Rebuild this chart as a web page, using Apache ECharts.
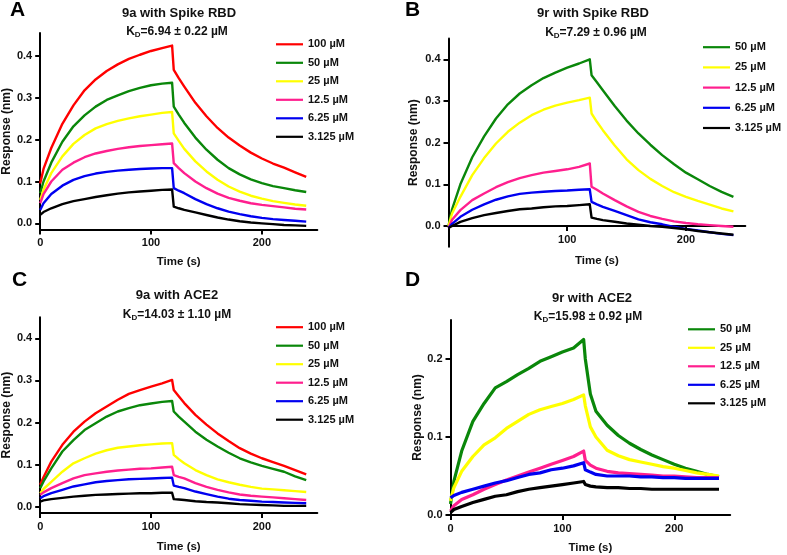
<!DOCTYPE html>
<html><head><meta charset="utf-8">
<script src="https://cdn.jsdelivr.net/npm/echarts@6/dist/echarts.min.js"></script>
<style>html,body{margin:0;padding:0;background:#fff}#c{width:787px;height:555px}</style>
</head><body><div id="c"></div>
<script>
// Time points (s) shared by every trace
const T = [0,3,10,20,30,40,50,60,70,80,90,100,110,119,120.5,125,130,140,150,160,170,180,190,200,210,220,230,240];

// Panel A: 9a with Spike RBD
const A_100 = [.095,.13,.18,.238,.282,.318,.344,.364,.38,.393,.403,.412,.419,.425, .367,.347,.327,.288,.256,.228,.205,.186,.169,.155,.143,.133,.122,.111];
const A_50  = [.072,.1,.145,.195,.232,.258,.279,.295,.306,.316,.324,.33,.334,.336, .279,.26,.24,.205,.176,.152,.132,.117,.105,.096,.089,.084,.079,.075];
const A_25  = [.056,.08,.12,.16,.19,.211,.227,.237,.245,.251,.256,.26,.264,.266, .215,.197,.178,.148,.124,.104,.088,.076,.066,.059,.053,.049,.045,.042];
const A_12  = [.048,.07,.1,.128,.145,.158,.167,.173,.178,.182,.185,.187,.189,.191, .144,.132,.12,.1,.084,.071,.061,.054,.048,.044,.041,.038,.035,.033];
const A_6   = [.032,.048,.07,.09,.104,.113,.119,.123,.126,.128,.13,.131,.132,.132, .084,.078,.072,.058,.046,.036,.028,.022,.017,.013,.01,.008,.006,.004];
const A_3   = [.02,.027,.036,.046,.053,.058,.063,.067,.071,.074,.076,.078,.08,.081, .04,.036,.032,.026,.02,.014,.009,.005,.002,0,-.002,-.004,-.005,-.006];

// Panel B: 9r with Spike RBD
const B_50 = [0,.04,.1,.165,.215,.258,.292,.318,.338,.355,.368,.38,.39,.4, .362,.345,.326,.288,.253,.222,.195,.17,.148,.128,.112,.096,.082,.07];
const B_25 = [0,.03,.07,.122,.163,.198,.226,.248,.266,.279,.289,.296,.302,.308, .27,.25,.23,.193,.16,.134,.113,.096,.081,.07,.06,.051,.042,.035];
const B_12 = [-.005,.015,.038,.062,.078,.093,.105,.115,.122,.128,.132,.136,.142,.15, .094,.087,.078,.062,.047,.034,.024,.017,.011,.007,.004,.002,0,-.002];
const B_6  = [-.005,.005,.022,.039,.052,.063,.071,.077,.08,.082,.084,.085,.087,.088, .058,.052,.046,.036,.026,.016,.009,.004,-.002,-.007,-.011,-.015,-.019,-.022];
const B_3  = [-.005,0,.01,.019,.026,.031,.036,.04,.042,.045,.047,.048,.05,.052, .02,.017,.014,.01,.006,.003,0,-.002,-.005,-.008,-.012,-.015,-.018,-.021];

// Panel C: 9a with ACE2
const C_100 = [.052,.07,.107,.147,.178,.202,.222,.238,.254,.268,.277,.285,.293,.301, .277,.262,.246,.218,.195,.174,.156,.139,.126,.115,.106,.097,.087,.077];
const C_50  = [.044,.06,.091,.131,.158,.182,.198,.214,.226,.234,.241,.245,.249,.251, .226,.214,.202,.178,.159,.143,.128,.115,.105,.097,.09,.083,.072,.063];
const C_25  = [.032,.042,.059,.083,.103,.115,.126,.134,.14,.143,.146,.148,.15,.151, .123,.113,.103,.087,.075,.065,.058,.052,.047,.043,.041,.039,.037,.035];
const C_12  = [.028,.034,.044,.056,.067,.075,.079,.083,.086,.088,.09,.091,.093,.095, .075,.071,.067,.056,.047,.04,.034,.029,.026,.024,.022,.02,.018,.016];
const C_6   = [.02,.025,.032,.04,.048,.053,.058,.061,.063,.065,.066,.067,.068,.069, .05,.047,.044,.036,.03,.024,.019,.016,.014,.012,.011,.01,.009,.008];
const C_3   = [.012,.015,.018,.021,.024,.026,.028,.029,.03,.031,.032,.032,.033,.033, .018,.017,.016,.013,.011,.01,.008,.006,.005,.004,.003,.002,.002,.002];

// Panel D: 9r with ACE2
const D_50 = [.014,.043,.082,.12,.143,.163,.171,.18,.188,.197,.203,.209,.214,.225, .2,.155,.133,.115,.102,.092,.084,.077,.071,.065,.06,.056,.052,.049];
const D_25 = [.018,.035,.056,.075,.09,.099,.111,.12,.129,.135,.139,.143,.148,.154, .14,.113,.1,.083,.076,.071,.068,.065,.062,.06,.057,.054,.052,.05];
const D_12 = [.005,.012,.02,.026,.033,.039,.045,.05,.055,.06,.065,.07,.075,.082, .07,.064,.06,.056,.054,.053,.052,.051,.05,.05,.049,.048,.048,.048];
const D_6  = [.022,.025,.029,.033,.037,.041,.044,.048,.052,.054,.058,.06,.063,.067, .058,.055,.052,.05,.05,.05,.049,.049,.048,.048,.047,.047,.047,.047];
const D_3  = [.003,.007,.011,.016,.02,.024,.026,.03,.033,.035,.037,.039,.041,.043, .039,.037,.036,.035,.035,.034,.034,.033,.033,.033,.033,.033,.033,.033];

// Labels
const panelLetters = ['A','B','C','D'];
const panelTitles = ['9a with Spike RBD','9r with Spike RBD','9a with ACE2','9r with ACE2'];
const kdValues = ['6.94 ± 0.22 µM','7.29 ± 0.96 µM','14.03 ± 1.10 µM','15.98 ± 0.92 µM'];
const concNames = ['100 µM','50 µM','25 µM','12.5 µM','6.25 µM','3.125 µM'];
const xTickLabels = [0,100,200];
const yTickLabelsBig = [0,0.1,0.2,0.3,0.4];
const yTickLabelsD = [0,0.1,0.2];

const COLORS = {'100 µM':'#ff0000','50 µM':'#0a870a','25 µM':'#ffff00','12.5 µM':'#ff1f8e','6.25 µM':'#0000f0','3.125 µM':'#000000'};
const FONT = '"Liberation Sans", Arial, Helvetica, sans-serif';

const panels = [
  {grid:{left:39,top:33,width:278.3,height:196.6}, ymin:-0.015, ymax:0.455, yTicks:yTickLabelsBig, xLabels:xTickLabels, xOffset:0,
   data:[A_100,A_50,A_25,A_12,A_6,A_3], names:concNames, legend:{left:276,top:37.3,gap:4.5}, lw:2.4,
   letter:[10,10.5], title:[179,13], kd:[177,31.5], xGap:26, yGap:26},
  {grid:{left:448.5,top:38.5,width:296.8,height:208.3}, ymin:-0.05, ymax:0.45, yTicks:yTickLabelsBig, xLabels:[100,200], xOffset:-20.8,
   data:[B_50,B_25,B_12,B_6,B_3], names:concNames.slice(1), legend:{left:703,top:40.2,gap:6.2}, lw:2.4,
   letter:[405,10], title:[593,13.5], kd:[596,32.5], xGap:29, yGap:29},
  {grid:{left:39,top:317.2,width:278.3,height:195.8}, ymin:-0.015, ymax:0.45, yTicks:yTickLabelsBig, xLabels:xTickLabels, xOffset:0,
   data:[C_100,C_50,C_25,C_12,C_6,C_3], names:concNames, legend:{left:276,top:320.2,gap:4.5}, lw:2.4,
   letter:[12,280.5], title:[177,295.5], kd:[177,314.5], xGap:27.5, yGap:26},
  {grid:{left:450.5,top:320,width:279.7,height:195.7}, ymin:0, ymax:0.25, yTicks:yTickLabelsD, xLabels:xTickLabels, xOffset:0,
   data:[D_50,D_25,D_12,D_6,D_3], names:concNames.slice(1), legend:{left:688,top:322.3,gap:4.5}, lw:3.2,
   letter:[405,280.5], title:[592,298], kd:[588,316.5], xGap:27, yGap:27}
];

const axisTextStyle = {color:'#111', fontSize:11, fontWeight:'bold', fontFamily:FONT};
const grids = [], xAxes = [], yAxes = [], series = [], legends = [], graphics = [];

panels.forEach((p, i) => {
  grids.push(Object.assign({containLabel:false}, p.grid));
  xAxes.push({
    type:'value', gridIndex:i, min:0, max:250, offset:p.xOffset,
    axisLine:{show:true, onZero:false, lineStyle:{color:'#000', width:2}},
    axisTick:{show:true, length:5, customValues:p.xLabels, lineStyle:{color:'#000', width:2}},
    axisLabel:Object.assign({customValues:p.xLabels, margin:8}, axisTextStyle),
    splitLine:{show:false},
    name:'Time (s)', nameLocation:'middle', nameGap:p.xGap,
    nameTextStyle:{color:'#111', fontSize:11.5, fontWeight:'bold', fontFamily:FONT}
  });
  yAxes.push({
    type:'value', gridIndex:i, min:p.ymin, max:p.ymax,
    axisLine:{show:true, onZero:false, lineStyle:{color:'#000', width:2}},
    axisTick:{show:true, length:5, customValues:p.yTicks, lineStyle:{color:'#000', width:2}},
    axisLabel:Object.assign({customValues:p.yTicks, margin:8, formatter:v => Number(v).toFixed(1)}, axisTextStyle),
    splitLine:{show:false},
    name:'Response (nm)', nameLocation:'middle', nameGap:p.yGap,
    nameTextStyle:{color:'#111', fontSize:12, fontWeight:'bold', fontFamily:FONT}
  });
  p.data.forEach((vals, k) => {
    const nm = p.names[k];
    series.push({
      type:'line', name:nm, xAxisIndex:i, yAxisIndex:i,
      data:T.map((t, j) => [t, vals[j]]),
      symbol:'none', showSymbol:false, smooth:false,
      lineStyle:{color:COLORS[nm], width:p.lw, join:'round'},
      itemStyle:{color:COLORS[nm]},
      z:2+k, animation:false
    });
  });
  legends.push({
    orient:'vertical', left:p.legend.left, top:p.legend.top, padding:0,
    itemGap:p.legend.gap, itemWidth:27, itemHeight:2.2, icon:'rect',
    data:p.names, selectedMode:false,
    textStyle:{color:'#111', fontSize:11, fontWeight:'bold', fontFamily:FONT, lineHeight:14, padding:[0,0,0,0]}
  });
  graphics.push({type:'text', x:p.letter[0], y:p.letter[1],
    style:{text:panelLetters[i], font:'bold 21px ' + FONT, fill:'#000', textVerticalAlign:'middle'}});
  graphics.push({type:'text', x:p.title[0], y:p.title[1],
    style:{text:panelTitles[i], font:'bold 13px ' + FONT, fill:'#111', textAlign:'center', textVerticalAlign:'middle'}});
  graphics.push({type:'text', x:p.kd[0], y:p.kd[1],
    style:{text:'{k|K}{d|D}{k|=' + kdValues[i] + '}', textAlign:'center', textVerticalAlign:'middle',
      rich:{k:{font:'bold 12px ' + FONT, fill:'#111', lineHeight:14},
            d:{font:'bold 8px ' + FONT, fill:'#111', lineHeight:5, verticalAlign:'bottom'}}}});
});

const chart = echarts.init(document.getElementById('c'), null, {renderer:'canvas'});
chart.setOption({
  animation:false,
  backgroundColor:'#ffffff',
  grid:grids, xAxis:xAxes, yAxis:yAxes, series:series, legend:legends, graphic:graphics
});
</script>
</body></html>
